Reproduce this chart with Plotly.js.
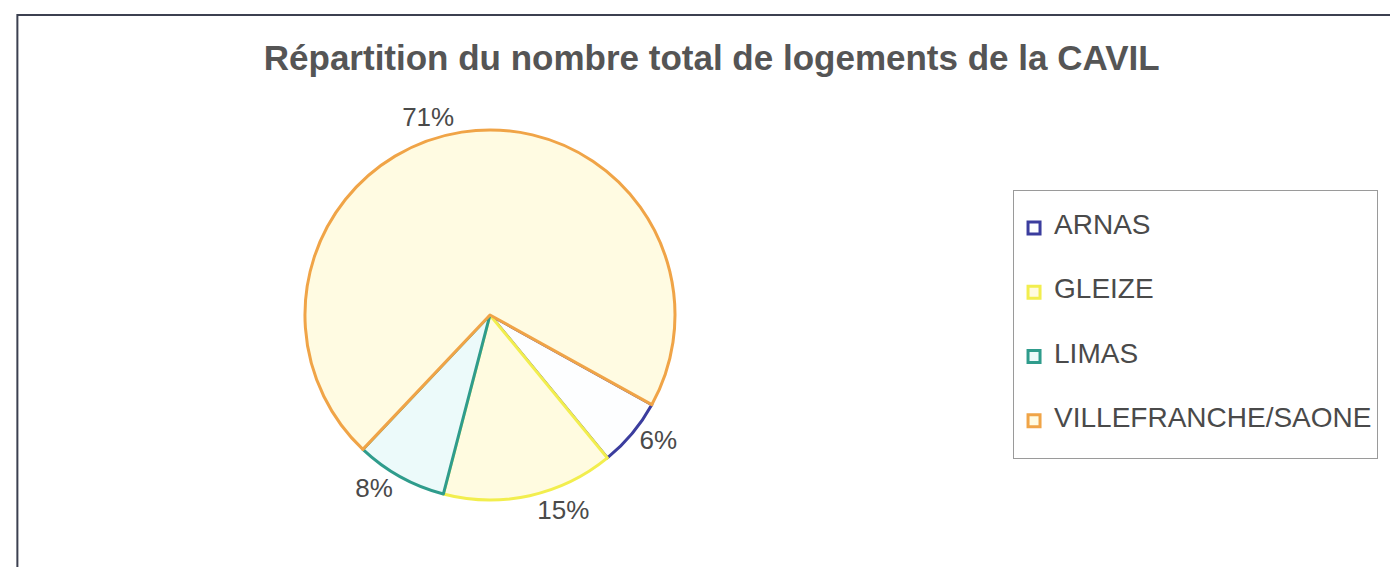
<!DOCTYPE html>
<html>
<head>
<meta charset="utf-8">
<script src="https://cdn.plot.ly/plotly-3.0.1.min.js"></script>
<style>
  html, body { margin: 0; padding: 0; background: #ffffff; }
  #chart { width: 1390px; height: 567px; }
</style>
</head>
<body>
<div id="chart"></div>
<script>
// ---- data ----
const communes = ['ARNAS', 'GLEIZE', 'LIMAS', 'VILLEFRANCHE/SAONE'];
const shares = [6, 15, 8, 71];            // % of total housing
const topColors = ['#fdfeff', '#fffbe0', '#ecfafa', '#fffbe2'];
const edgeColors = ['#3b3d9e', '#f2ee4e', '#2f9c8c', '#f0a447'];
const chartTitle = 'Répartition du nombre total de logements de la CAVIL';

// legend entries are spaced like the reference (one visible line, padded)
const legendLabels = communes.map(c => '<br><span style="font-size:28px">' + c + '</span><br>');

const trace = {
  type: 'pie',
  labels: legendLabels,
  values: shares,
  sort: false,
  direction: 'clockwise',
  rotation: 119,
  marker: { colors: topColors, line: { color: edgeColors, width: 3 } },
  textinfo: 'percent',
  textposition: 'outside',
  outsidetextfont: { family: 'Liberation Sans, Arial, sans-serif', size: 26, color: '#4a4a4a' },
  hoverinfo: 'skip',
  domain: { x: [0.2194, 0.4856], y: [0.118, 0.771] }
};

const layout = {
  width: 1390,
  height: 567,
  margin: { l: 0, r: 0, t: 0, b: 0 },
  paper_bgcolor: '#ffffff',
  font: { family: 'Liberation Sans, Arial, sans-serif', color: '#4a4a4a' },
  title: {
    text: chartTitle,
    font: { family: 'Liberation Sans, Arial, sans-serif', size: 35, color: '#555555', weight: 'bold' },
    xref: 'paper', yref: 'paper',
    x: 0.512, xanchor: 'center',
    y: 0.899, yanchor: 'middle'
  },
  showlegend: true,
  legend: {
    x: 0.7288, xanchor: 'left',
    y: 0.665, yanchor: 'top',
    bgcolor: '#ffffff',
    bordercolor: '#9a9a9a',
    borderwidth: 1,
    font: { family: 'Liberation Sans, Arial, sans-serif', size: 15.7, color: '#4a4a4a' }
  },
  shapes: [{
    type: 'rect', xref: 'paper', yref: 'paper',
    x0: 0.0125, x1: 1.05, y0: -0.05, y1: 0.9735,
    line: { color: '#3c4050', width: 2 },
    fillcolor: 'rgba(0,0,0,0)', layer: 'below'
  }]
};

Plotly.newPlot('chart', [trace], layout, { displayModeBar: false, staticPlot: true });
</script>
</body>
</html>
